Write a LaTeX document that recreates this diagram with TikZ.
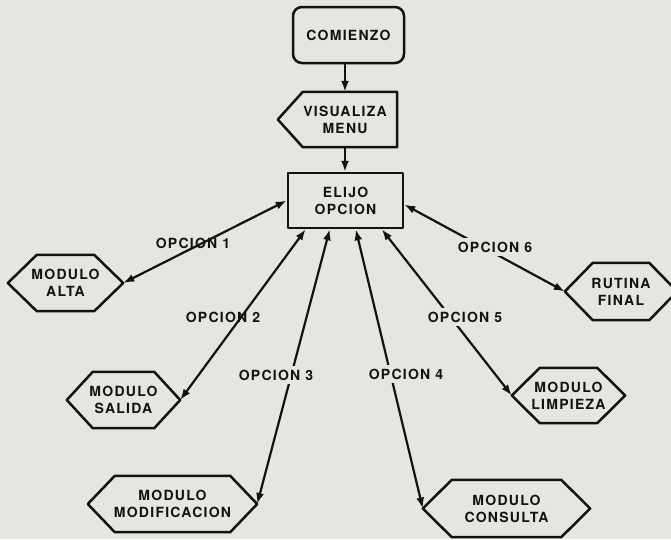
\documentclass[tikz,border=0pt]{standalone}
\usepackage{fontspec}
\setmainfont{TeX Gyre Heros}
\usetikzlibrary{arrows.meta}
\definecolor{paper}{RGB}{231,229,224}
\definecolor{ink}{RGB}{18,18,18}
\newcommand\hexoutline[2]{%
  \draw[shapeline] (#1.west) -- ([xshift=#2]#1.north west) -- ([xshift=-#2]#1.north east)
    -- (#1.east) -- ([xshift=-#2]#1.south east) -- ([xshift=#2]#1.south west) -- cycle;}
\begin{document}
\begin{tikzpicture}[x=1pt,y=-1pt,
  txt/.style={font=\fontsize{14}{17}\selectfont\bfseries\addfontfeature{LetterSpace=9},
    text=ink, align=center, inner sep=0pt},
  shapeline/.style={draw=ink, line width=2.5pt, line join=round},
  roundbox/.style={txt, shapeline, rounded corners=9pt},
  rectbox/.style={txt, shapeline},
  hexnode/.style={txt},
  lab/.style={txt},
  labgap/.style={txt, fill=paper, inner sep=4pt},
  arr/.style={draw=ink, line width=2.2pt, -{Latex[length=11pt,width=8pt]}},
  arrtwo/.style={draw=ink, line width=2.2pt, {Latex[length=11pt,width=8pt]}-{Latex[length=11pt,width=8pt]}}]
\fill[paper] (0,0) rectangle (671,539);
\useasboundingbox (0,0) rectangle (671,539);
\begin{scope}
\clip (0,0) rectangle (671,539);
% nodes
\node[roundbox, minimum width=111pt, minimum height=56pt] (comienzo) at (348.5,35) {COMIENZO};
\node[hexnode, minimum width=104pt, minimum height=55pt] (visualiza) at (345,119.5) {VISUALIZA\\MENU};
\draw[shapeline] (visualiza.north east) -- ([xshift=10pt]visualiza.north west)
  -- ([xshift=-15pt]visualiza.west) -- ([xshift=10pt]visualiza.south west)
  -- (visualiza.south east) -- cycle;
\node[rectbox, minimum width=115pt, minimum height=55pt] (elijo) at (345.5,200.5) {ELIJO\\OPCION};
\node[hexnode, minimum width=115pt, minimum height=56pt] (alta) at (65.5,283) {MODULO\\ALTA};
\hexoutline{alta}{29pt}
\node[hexnode, minimum width=113pt, minimum height=56pt] (salida) at (123.5,400) {MODULO\\SALIDA};
\hexoutline{salida}{26pt}
\node[hexnode, minimum width=169pt, minimum height=56pt] (modif) at (172.5,504) {MODULO\\MODIFICACION};
\hexoutline{modif}{27pt}
\node[hexnode, minimum width=167pt, minimum height=57pt] (consulta) at (506.5,508.5) {MODULO\\CONSULTA};
\hexoutline{consulta}{29pt}
\node[hexnode, minimum width=113pt, minimum height=55pt] (limpieza) at (568.5,395.5) {MODULO\\LIMPIEZA};
\hexoutline{limpieza}{28pt}
\node[hexnode, minimum width=112pt, minimum height=57pt] (rutina) at (621,291.5) {RUTINA\\FINAL};
\hexoutline{rutina}{28pt}
% connectors
\draw[arr] (comienzo.south -| visualiza.north) -- (visualiza.north);
\draw[arr] (visualiza.south) -- (visualiza.south |- elijo.north);
\draw[arrtwo] (elijo.west) -- (alta.east);
\draw[arrtwo] ([xshift=19pt]elijo.south west) -- (salida.east);
\draw[arrtwo] ([xshift=43pt]elijo.south west) -- (modif.east);
\draw[arrtwo] ([xshift=69pt]elijo.south west) -- (consulta.west);
\draw[arrtwo] ([xshift=95pt]elijo.south west) -- (limpieza.west);
\draw[arrtwo] ([yshift=-4pt]elijo.east) -- (rutina.west);
% labels
\node[lab] (l1) at (193,243) {OPCION 1};
\node[lab] (l2) at (223,317) {OPCION 2};
\node[labgap] (l3) at (276,375) {OPCION 3};
\node[labgap] (l4) at (406,374) {OPCION 4};
\node[labgap] (l5) at (465,317) {OPCION 5};
\node[labgap] (l6) at (495,247) {OPCION 6};
\end{scope}
\end{tikzpicture}
\end{document}
